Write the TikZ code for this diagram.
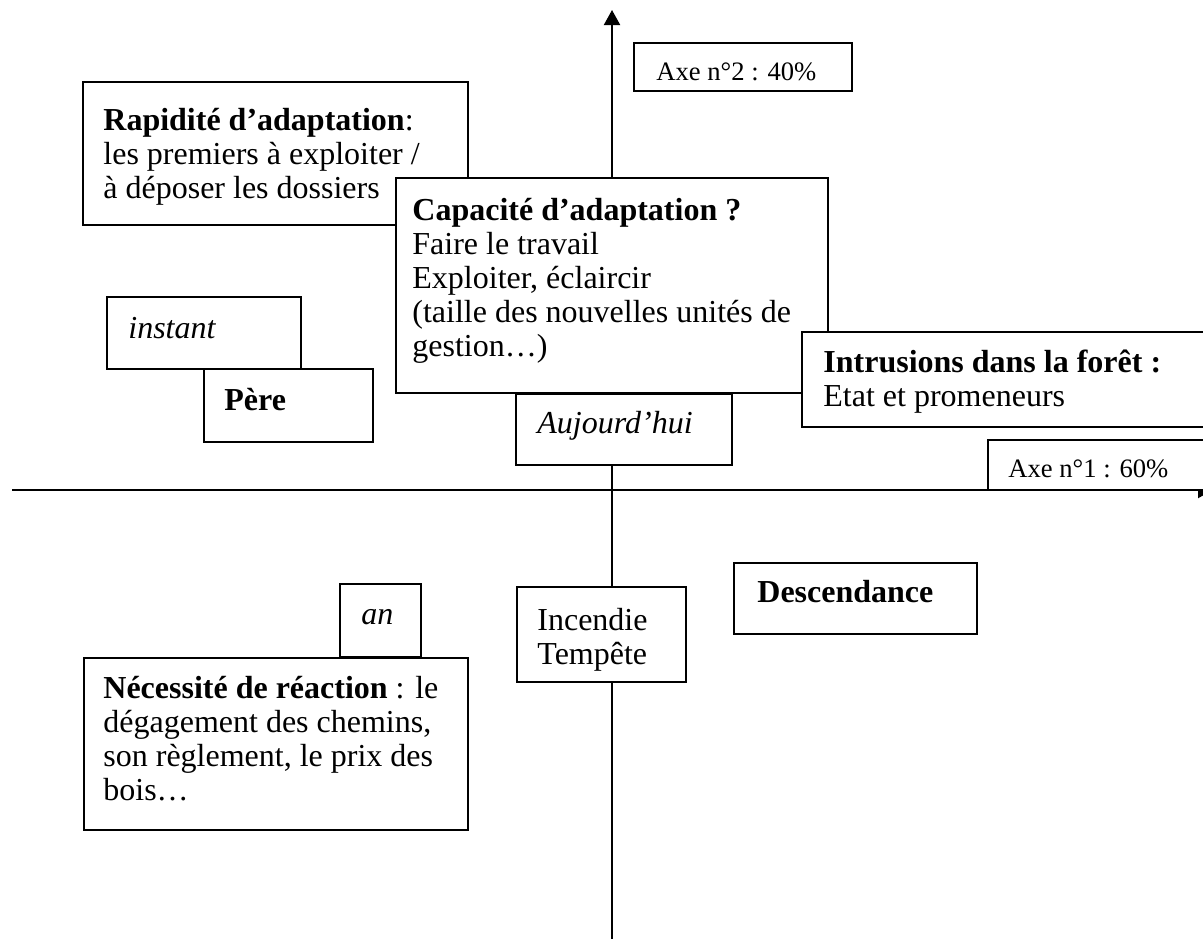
\documentclass[tikz,border=0pt]{standalone}
\usepackage{fontspec}
\setmainfont{Liberation Serif}
\usetikzlibrary{arrows.meta,fit}
\tikzset{
  box/.style={draw, line width=1pt, fill=white, inner sep=0pt},
  % texts are placed by the baseline of their last line
  txt/.style={anchor=base west, inner sep=0pt, align=left, font=\fontsize{16}{17}\selectfont},
  axetxt/.style={anchor=base west, inner sep=0pt, font=\fontsize{13.3}{15}\selectfont},
  axisline/.style={line width=1pt, -{Triangle[length=7.5pt,width=8pt]}},
}
% framed panel given by its top-left and bottom-right corners (pixel units)
\newcommand\drawpanel[5]{%
  \coordinate (#1-nw) at (#2,#3);
  \coordinate (#1-se) at (#4,#5);
  \node[box, fit=(#1-nw)(#1-se)] (#1) {};
}
\begin{document}
\begin{tikzpicture}[x=0.5pt,y=-0.5pt]
\useasboundingbox (0,0) rectangle (1203,938);

% axes
\coordinate (yfoot) at (612,945);
\coordinate (ytip) at (612,10);
\coordinate (xfoot) at (12,490);
\coordinate (xtip) at (1213,490);
\draw[axisline] (yfoot) -- (ytip);
\draw[axisline] (xfoot) -- (xtip);

% upper half
\drawpanel{axeB}{634}{43}{852}{91}
\node[axetxt] (axeBtxt) at (656,80) {Axe n°2 : 40\%};

\drawpanel{rap}{83}{82}{468}{225}
\node[txt] (raptxt) at (103,198) {\textbf{Rapidité d’adaptation}:\\les premiers à exploiter /\\à déposer les dossiers};

\drawpanel{cap}{396}{178}{828}{393}
\node[txt] (captxt) at (412,356) {\textbf{Capacité d’adaptation ?}\\Faire le travail\\Exploiter, éclaircir\\(taille des nouvelles unités de\\gestion…)};

\drawpanel{inst}{107}{297}{301}{369}
\node[txt] (insttxt) at (128,338) {\textit{instant}};

\drawpanel{pere}{204}{369}{373}{442}
\node[txt] (peretxt) at (224,410) {\textbf{Père}};

\drawpanel{intr}{802}{332}{1215}{427}
\node[txt] (intrtxt) at (823,406) {\textbf{Intrusions dans la forêt :}\\Etat et promeneurs};

\drawpanel{auj}{516}{394}{732}{465}
\node[txt] (aujtxt) at (537,433) {\textit{Aujourd’hui}};

\drawpanel{axeA}{988}{440}{1215}{490}
\node[axetxt] (axeAtxt) at (1008,477) {Axe n°1 : 60\%};

% lower half
\drawpanel{an}{340}{584}{421}{657}
\node[txt] (antxt) at (361,624) {\textit{an}};

\drawpanel{nec}{84}{658}{468}{830}
\node[txt] (nectxt) at (103,800) {\textbf{Nécessité de réaction} : le\\dégagement des chemins,\\son règlement, le prix des\\bois…};

\drawpanel{inc}{517}{587}{686}{682}
\node[txt] (inctxt) at (537,664) {Incendie\\Tempête};

\drawpanel{desc}{734}{563}{977}{634}
\node[txt] (desctxt) at (757,602) {\textbf{Descendance}};
\end{tikzpicture}
\end{document}
